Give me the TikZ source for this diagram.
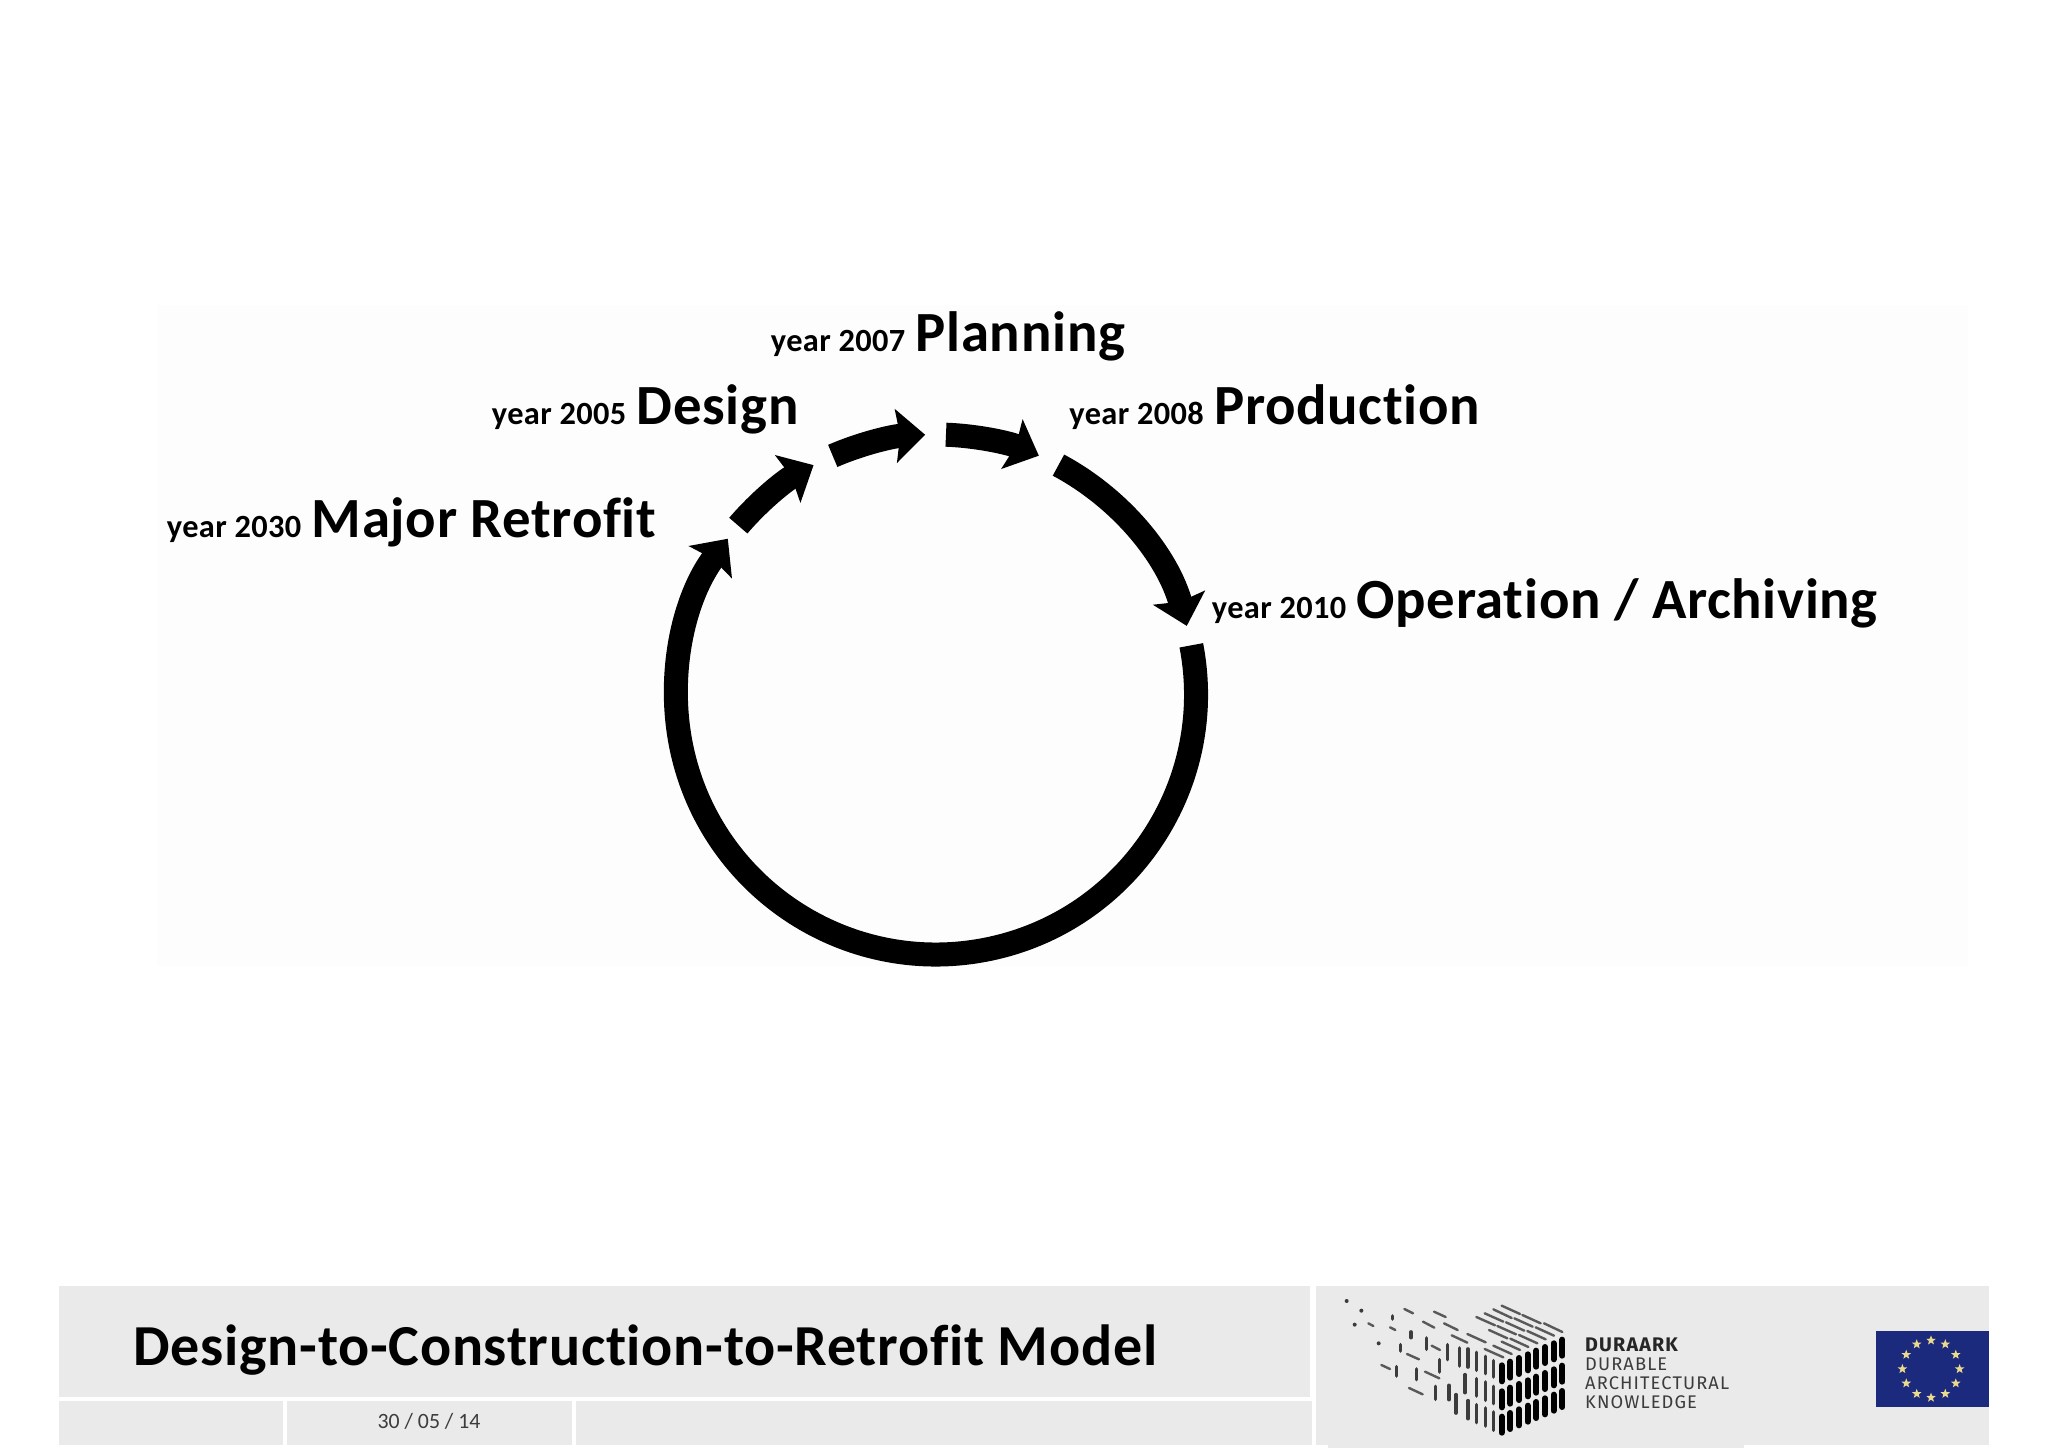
\documentclass[tikz,border=0pt]{standalone}
\usepackage{fontspec}
\usetikzlibrary{arrows.meta,positioning,shapes.geometric}
\setmainfont[Ligatures=NoCommon,LetterSpace=1.2]{Carlito}
\newfontfamily\datefont{Carlito}
\newfontfamily\logofont[LetterSpace=6]{Fira Sans}
\definecolor{barcolor}{HTML}{EAEAEA}
\definecolor{flagblue}{HTML}{1B2A7C}
\definecolor{flagstar}{HTML}{EBD98E}
\definecolor{logogrey}{HTML}{3C3C3C}
\tikzset{
  cyclearrow/.style={line width=0.24cm,-{Stealth[width=0.53cm,length=0.29cm,inset=0.04cm]}},
  stagelabel/.style={inner sep=0pt,anchor=base west,font=\fontsize{16.15}{18}\selectfont\bfseries},
  yearlabel/.style={inner sep=0pt,font=\fontsize{9.2}{11}\selectfont\bfseries},
  logotext/.style={inner sep=0pt,anchor=base west,text=logogrey,font=\logofont\fontsize{5.2}{6}\selectfont},
  footbar/.style={fill=barcolor,draw=none}
}
\begin{document}
\begin{tikzpicture}[x=0.01cm,y=0.01cm]
  \useasboundingbox (0,0) rectangle (2048,1448);
  % centre and radius of the ring
  \def\cx{936}
  \def\cy{753.5}
  \def\rad{260}

  % faint panel behind the ring
  \fill[black!0.6] (157,482) rectangle (1968,1143);

  % ring of arrows
  \begin{scope}[shift={(\cx,\cy)}]
    \foreach \s/\e in {10.9/-216.8,139.5/118.1,113.4/92.4,87.8/66.7,61.9/15.3}
      \draw[cyclearrow] (\s:\rad) arc[start angle=\s,end angle=\e,radius=\rad];
  \end{scope}

  % stage labels
  \node[stagelabel] (planning) at (915,1096.5) {Planning};
  \node[stagelabel] (design) at (636,1023) {Design};
  \node[stagelabel] (production) at (1213.5,1023) {Production};
  \node[stagelabel] (retrofit) at (311,910) {Major Retrofit};
  \node[stagelabel] (operation) at (1356,829) {Operation / Archiving};
  \node[yearlabel,base left=0.09cm of planning] (yearplanning) {year 2007};
  \node[yearlabel,base left=0.09cm of design] (yeardesign) {year 2005};
  \node[yearlabel,base left=0.09cm of production] (yearproduction) {year 2008};
  \node[yearlabel,base left=0.09cm of retrofit] (yearretrofit) {year 2030};
  \node[yearlabel,base left=0.09cm of operation] (yearoperation) {year 2010};

  % footer
  \fill[footbar] (59,51) rectangle (1310,162);
  \fill[footbar] (59,3) rectangle (282.5,47);
  \fill[footbar] (286.5,3) rectangle (572,47);
  \fill[footbar] (576,3) rectangle (1312,47);
  \fill[footbar] (1316,3) rectangle (1989,162);
  \fill[footbar] (1328,0) rectangle (1744,3);
  \node[inner sep=0pt,anchor=base west,font=\fontsize{16.5}{20}\selectfont\bfseries] (title) at (133,83) {Design-to-Construction-to-Retrofit Model};
  \node[inner sep=0pt,anchor=base,text=logogrey,font=\datefont\fontsize{6.2}{8}\selectfont] (date) at (429,20) {30 / 05 / 14};

  % logo, in pixels of its own
  \begin{scope}[shift={(1335,158)},xscale=1/3,yscale=-1/3]
    % top face and loose dashes
    \foreach \xa/\ya/\xb/\yb in {500/47/555/72,562/75/617/100,627/100/682/126,475/58/530/84,538/85/593/110,602/112/657/137,
        449/70/505/95,513/97/568/122,577/123/632/148,424/81/480/106,487/108/543/133,552/135/607/160,462/120/517/145,526/146/580/171,
        500/155/555/180,475/167/530/192,449/177/505/202,397/132/452/157,350/136/397/158,327/100/368/120,297/65/332/81,264/95/298/113,
        208/57/234/70,290/167/315/180,216/192/252/208,270/245/313/265,222/294/263/313,139/225/165/237,165/112/181/120,100/100/115/108}
      \draw[logogrey!85,line width=0.024cm,line cap=round] (\xa,\ya) -- (\xb,\yb);
    % left face and loose bars
    \foreach \xa/\ya/\yb in {476/212/261,476/289/341,476/366/421,451/199/251,451/276/331,451/354/408,425/187/241,425/266/318,425/344/398,
        399/177/231,399/332/386,373/174/228,390/254/308,338/164/209,342/286/329,363/314/369,314/209/246,301/289/328,275/144/178,245/237/269,
        228/126/143,196/164/183,184/230/258,172/78/87}
      \draw[logogrey,line width=0.036cm,line cap=round] (\xa,\ya) -- (\xa,\yb);
    % right face
    \foreach \i in {0,...,7}
      \foreach \ya/\yb in {226/274,304/352,380/428}
        \draw[black,line width=0.06cm,line cap=round] ({500+26*\i},{\ya-11*\i}) -- ({500+26*\i},{\yb-11*\i});
    % dots
    \foreach \xa/\ya in {35/33,79/62,59/104,131/160}
      \fill[logogrey] (\xa,\ya) circle (6);
  \end{scope}
  \node[logotext,font=\logofont\fontsize{5.6}{6}\selectfont\bfseries,text=black!85] (logoname) at (1584.5,97) {DURAARK};
  \node[logotext] (logoline) at (1584.5,77.7) {DURABLE};
  \node[logotext] (logolinetwo) at (1584.5,58.7) {ARCHITECTURAL};
  \node[logotext] (logolinethree) at (1584.5,39.7) {KNOWLEDGE};

  % flag
  \fill[flagblue] (1876,41) rectangle (1989,117);
  \foreach \i in {1,...,12}
    \node[star,star points=5,star point ratio=2.4,fill=flagstar,inner sep=0pt,minimum size=0.1cm] (star\i) at ({1931+28.6*cos(30*\i)},{79+28.6*sin(30*\i)}) {};
\end{tikzpicture}
\end{document}
